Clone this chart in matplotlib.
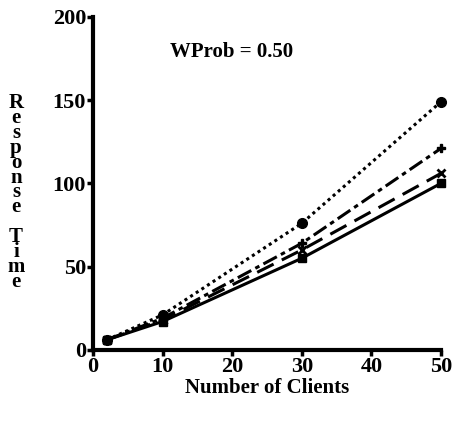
import matplotlib
matplotlib.use('Agg')
import matplotlib.pyplot as plt

# Number of clients on the x axis
clients = [2, 10, 30, 50]

# Response time for each of the four curves
resp_dotted = [6, 21, 76, 149]
resp_dashdot = [6, 19, 64, 121]
resp_dashed = [6, 18, 60, 106]
resp_solid = [6, 17, 55, 100]

xticks = [0, 10, 20, 30, 40, 50]
yticks = [0, 50, 100, 150, 200]

plt.rcParams['font.family'] = ['Liberation Serif', 'DejaVu Serif']

fig = plt.figure(figsize=(4.56, 4.23), dpi=100)
ax = fig.add_axes([0.204, 0.173, 0.763, 0.787])

ax.plot(clients, resp_dotted, color='black', lw=2.2, ls=(0, (1, 1.2)),
        marker='o', ms=7, clip_on=False)
ax.plot(clients, resp_dashdot, color='black', lw=2.2, ls=(0, (5, 1.5, 1.5, 1.5)),
        marker='P', ms=6, clip_on=False)
ax.plot(clients, resp_dashed, color='black', lw=2.2, ls=(0, (6, 3)),
        marker='x', ms=6, mew=2, clip_on=False)
ax.plot(clients, resp_solid, color='black', lw=2.2, ls='-',
        marker='s', ms=6, clip_on=False)

ax.set_xlim(0, 50)
ax.set_ylim(0, 200)
ax.set_xticks(xticks)
ax.set_yticks(yticks)
ax.spines['top'].set_visible(False)
ax.spines['right'].set_visible(False)
ax.spines['left'].set_linewidth(3)
ax.spines['bottom'].set_linewidth(3)
ax.tick_params(direction='out', length=4, width=2.5, labelsize=16, pad=1)
for lab in ax.get_xticklabels() + ax.get_yticklabels():
    lab.set_fontweight('bold')

ax.set_xlabel('Number of Clients', fontsize=15, fontweight='bold', labelpad=1)
fig.text(0.035, 0.545, '\n'.join('Response Time'), fontsize=15, fontweight='bold',
         ha='center', va='center', linespacing=0.66)

ax.text(0.22, 0.88, 'WProb = 0.50', transform=ax.transAxes, fontsize=15,
        fontweight='semibold')

fig.savefig('out.png', dpi=100)
